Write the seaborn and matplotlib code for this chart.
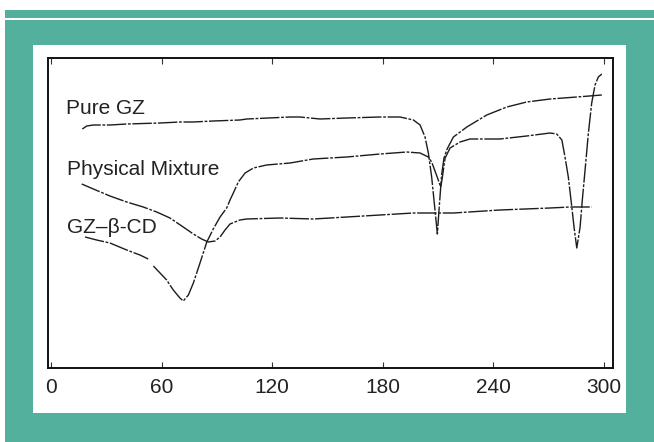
import numpy as np
import pandas as pd
import seaborn as sns
import matplotlib
matplotlib.use("Agg")
import matplotlib.pyplot as plt
from matplotlib.patches import Rectangle

# DSC thermograms (temperature in °C, heat flow in arbitrary units)
pure_gz_t = [16.9, 19.3, 22.9, 31.9, 41.0, 59.1, 69.9, 77.0, 88.0, 102.5, 106.2,
             129.7, 135.1, 146.0, 160.5, 178.6, 189.4, 196.7, 200.3, 203.0, 204.8,
             206.6, 208.4, 209.7, 210.4, 211.2, 212.0, 213.3, 215.0, 218.4, 225.7,
             236.5, 247.4, 258.2, 270.9, 285.4, 299.0]
pure_gz_q = [23.9, 24.2, 24.3, 24.3, 24.4, 24.5, 24.6, 24.6, 24.7, 24.8, 24.9,
             25.1, 25.1, 24.9, 25.0, 25.1, 25.1, 24.8, 24.3, 23.1, 21.5,
             19.1, 15.8, 13.4, 15.3, 17.3, 19.3, 21.0, 21.9, 23.1, 24.1,
             25.3, 26.1, 26.6, 26.9, 27.1, 27.3]

mixture_t = [16.6, 22.9, 31.9, 41.0, 50.0, 57.3, 64.5, 71.7, 77.2, 81.7, 85.3,
             89.0, 91.7, 94.4, 97.1, 102.5, 106.2, 124.3, 142.3, 160.5, 178.6,
             196.7, 211.2, 218.4, 243.7, 270.9, 281.8, 293.5]
mixture_q = [18.4, 17.9, 17.2, 16.6, 16.1, 15.6, 15.0, 14.1, 13.4, 12.9, 12.6,
             12.7, 13.1, 13.8, 14.4, 14.8, 14.9, 15.0, 14.9, 15.1, 15.3,
             15.5, 15.5, 15.5, 15.8, 16.0, 16.1, 16.1]

# inclusion complex, first trace segment (broken in the original record)
complex_a_t = [18.4, 24.7, 31.9, 41.0, 48.2, 52.7]
complex_a_q = [13.1, 12.8, 12.5, 11.8, 11.3, 10.9]
complex_b_t = [55.5, 59.1, 62.7, 66.3, 69.9, 71.7, 74.5, 77.2, 80.8, 84.5, 88.0,
               91.7, 95.3, 97.1, 98.9, 101.6, 105.3, 109.8, 117.0, 129.7, 142.3,
               160.5, 178.6, 193.1, 200.3, 204.8, 206.6, 208.2, 209.8, 211.5,
               212.2, 213.1, 213.9, 216.6, 222.0, 227.4, 243.7, 258.2, 270.9,
               274.5, 277.3, 279.0, 280.8, 282.7, 283.9, 285.4, 287.2, 288.4,
               289.9, 291.7, 293.5, 295.3, 297.1, 299.0]
complex_b_q = [10.2, 9.5, 8.8, 7.8, 7.0, 6.7, 7.3, 8.5, 10.5, 12.6, 13.9,
               15.1, 16.0, 16.8, 17.5, 18.6, 19.5, 20.0, 20.3, 20.5, 20.9,
               21.1, 21.4, 21.6, 21.5, 21.1, 20.6, 19.8, 19.0, 18.1,
               18.8, 20.0, 21.0, 22.0, 22.6, 22.9, 22.9, 23.2, 23.5,
               23.4, 22.8, 21.1, 19.1, 16.1, 14.1, 12.0, 14.1, 16.8,
               19.8, 23.5, 26.5, 28.3, 29.1, 29.4]

x_ticks = [0, 60, 120, 180, 240, 300]
labels = ["Pure GZ", "Physical Mixture", "GZ\u2013\u03b2-CD"]

frames = [
    pd.DataFrame({"T": pure_gz_t, "Q": pure_gz_q, "sample": "pure", "seg": 0}),
    pd.DataFrame({"T": mixture_t, "Q": mixture_q, "sample": "mix", "seg": 1}),
    pd.DataFrame({"T": complex_a_t, "Q": complex_a_q, "sample": "cplx", "seg": 2}),
    pd.DataFrame({"T": complex_b_t, "Q": complex_b_q, "sample": "cplx", "seg": 3}),
]
df = pd.concat(frames, ignore_index=True)

sns.set_theme(style="white")
plt.rcParams["font.family"] = ["Liberation Sans", "DejaVu Sans"]

teal = "#52b09c"
ink = "#1c1c1c"

fig = plt.figure(figsize=(6.54, 4.42), dpi=100, facecolor="white")
W, H = 654, 442

def px_rect(x0, y0, x1, y1, color):
    # rectangle in pixel coords measured from the top-left
    fig.add_artist(Rectangle((x0 / W, 1 - y1 / H), (x1 - x0) / W, (y1 - y0) / H,
                             transform=fig.transFigure, facecolor=color,
                             edgecolor="none", zorder=0))

px_rect(5, 10, 654, 18, teal)
px_rect(5, 20, 654, 442, teal)
px_rect(32.7, 45.3, 625.7, 413, "white")

ax = fig.add_axes([47.5 / W, 1 - 368 / H, (612.7 - 47.5) / W, (368 - 58.3) / H])
ax.set_facecolor("white")

sns.lineplot(data=df, x="T", y="Q", hue="sample", units="seg", estimator=None,
             sort=False, palette={"pure": ink, "mix": ink, "cplx": ink},
             legend=False, linewidth=1.0, ax=ax)
for ln in ax.lines:
    ln.set_linestyle((0, (14, 1.2, 2, 1.2)))

ax.set_xlim(-2.0, 304.9)
ax.set_ylim(0, 30.97)
ax.set_xticks(x_ticks)
ax.set_xticklabels([str(t) for t in x_ticks])
ax.set_yticks([])
ax.set_xlabel("")
ax.set_ylabel("")
ax.tick_params(axis="x", direction="in", top=True, bottom=True, length=4,
               width=0.8, color="#333333", labelsize=15, labelcolor="#222222",
               pad=7)
for sp in ax.spines.values():
    sp.set_linewidth(1.4)
    sp.set_color("#111111")
    sp.set_visible(True)

# curve labels
ax.text(8.0, 25.4, labels[0], fontsize=15, color="#222222", va="baseline")
ax.text(8.4, 19.3, labels[1], fontsize=15, color="#222222", va="baseline")
ax.text(8.4, 13.5, labels[2], fontsize=15, color="#222222", va="baseline")

fig.savefig("out.png", dpi=100, facecolor="white")
